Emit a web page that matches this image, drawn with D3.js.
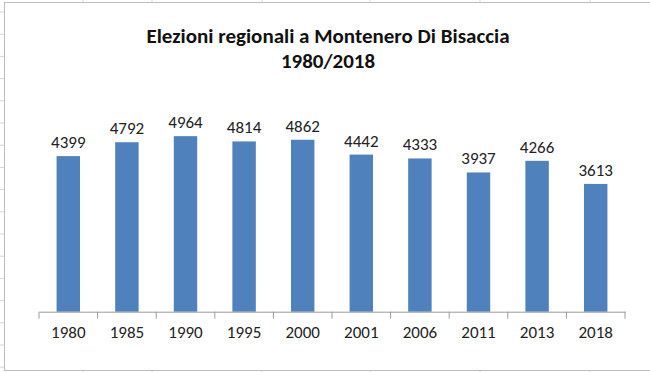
<!DOCTYPE html>
<html>
<head>
<meta charset="utf-8">
<script src="https://cdn.jsdelivr.net/npm/d3@7"></script>
<style>
  body { margin: 0; background: #fff; }
  text { font-family: Carlito, Lato, "Liberation Sans", sans-serif; }
</style>
</head>
<body>
<div class="canvas"></div>
<script>
// data
const years = ['1980','1985','1990','1995','2000','2001','2006','2011','2013','2018'];
const voters = [4399, 4792, 4964, 4814, 4862, 4442, 4333, 3937, 4266, 3613];
const titleLines = ['Elezioni regionali a Montenero Di Bisaccia', '1980/2018'];

const data = years.map((y, i) => ({year: y, value: voters[i]}));

const width = 650, height = 372;
const svg = d3.select('.canvas')
    .append('svg')
    .attr('width', width)
    .attr('height', height);

// spreadsheet grid behind the chart
const colLines = [83, 152, 262, 370, 480, 590];
svg.selectAll('line.col')
    .data(colLines)
    .enter().append('line')
    .attr('x1', d => d).attr('x2', d => d)
    .attr('y1', 0).attr('y2', height)
    .attr('stroke', '#d6d6d6');
svg.selectAll('line.row')
    .data(d3.range(12, height, 22.2))
    .enter().append('line')
    .attr('x1', 0).attr('x2', width)
    .attr('y1', d => d).attr('y2', d => d)
    .attr('stroke', '#d6d6d6');

// chart box
svg.append('rect')
    .attr('x', 4.5).attr('y', 2.5)
    .attr('width', 700).attr('height', 368)
    .attr('fill', '#fff')
    .attr('stroke', '#bdbdbd');

const margin = {left: 39, right: 25, top: 99.5, bottom: 60.3};

const x = d3.scaleBand()
    .domain(years)
    .range([margin.left, width - margin.right])
    .paddingInner(0.6)
    .paddingOuter(0.3);

const y = d3.scaleLinear()
    .domain([0, 6000])
    .range([height - margin.bottom, margin.top]);

// bars
svg.selectAll('rect.bar')
    .data(data)
    .enter().append('rect')
    .attr('class', 'bar')
    .attr('x', d => x(d.year))
    .attr('y', d => y(d.value))
    .attr('width', x.bandwidth())
    .attr('height', d => y(0) - y(d.value))
    .attr('fill', '#4f81bd');

// value labels
svg.selectAll('text.val')
    .data(data)
    .enter().append('text')
    .attr('x', d => x(d.year) + x.bandwidth() / 2)
    .attr('y', d => y(d.value) - 8)
    .attr('text-anchor', 'middle')
    .attr('font-size', 17)
    .attr('fill', '#222')
    .text(d => d.value);

// x axis: labels centred, ticks on category boundaries (excel style)
const xAxisGroup = svg.append('g')
    .attr('transform', `translate(0, ${y(0)})`);
xAxisGroup.call(d3.axisBottom(x).tickSize(0).tickPadding(14));
xAxisGroup.select('.domain').attr('stroke', '#9a9a9a');
xAxisGroup.selectAll('text')
    .attr('font-size', 17)
    .attr('fill', '#222')
    .style('font-family', 'Carlito, Lato, sans-serif');

const step = x.step();
const boundaries = d3.range(years.length + 1).map(i => margin.left + i * step);
xAxisGroup.selectAll('line.btick')
    .data(boundaries)
    .enter().append('line')
    .attr('x1', d => d).attr('x2', d => d)
    .attr('y1', 0).attr('y2', 7)
    .attr('stroke', '#9a9a9a');

// title
svg.selectAll('text.title')
    .data(titleLines)
    .enter().append('text')
    .attr('x', 328)
    .attr('y', (d, i) => 43 + i * 24.5)
    .attr('text-anchor', 'middle')
    .attr('font-size', 21)
    .attr('font-weight', 'bold')
    .attr('fill', '#111')
    .text(d => d);
</script>
</body>
</html>
